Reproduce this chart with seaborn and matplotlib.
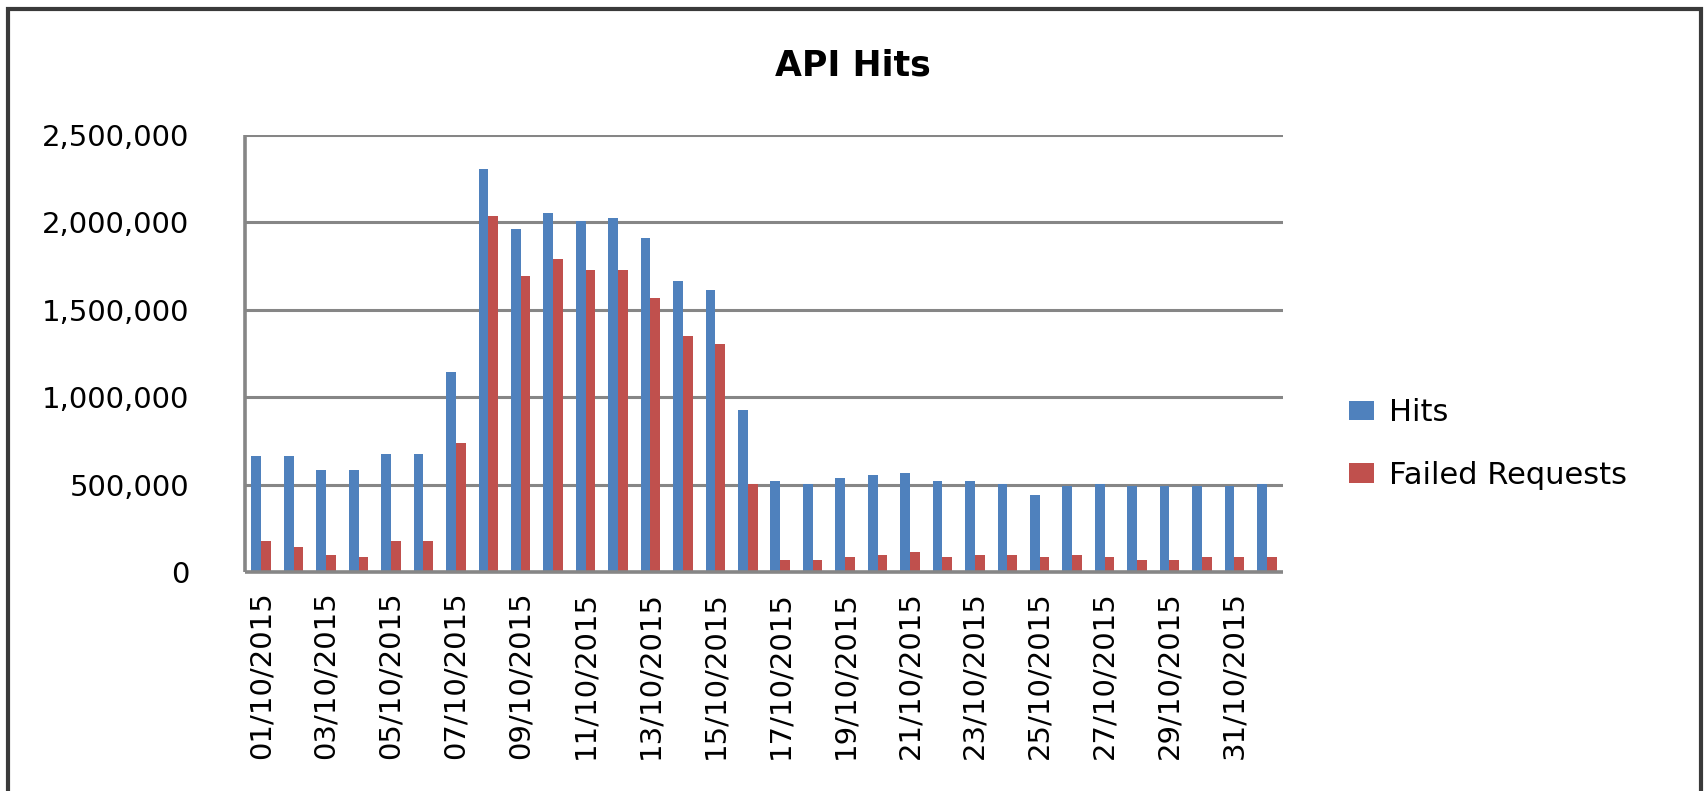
import numpy as np
import pandas as pd
import matplotlib
matplotlib.use("Agg")
import matplotlib.pyplot as plt
from matplotlib.ticker import FuncFormatter, FixedLocator
from matplotlib.patches import Rectangle, Patch
import seaborn as sns

# ---- data ----
dates = [f"{d:02d}/10/2015" for d in range(1, 32)] + ["01/11/2015"]
hits = [664000, 664000, 584000, 584000, 676000, 676000, 1145000, 2307000,
        1964000, 2055000, 2010000, 2027000, 1912000, 1666000, 1615000, 927000,
        521000, 504000, 538000, 555000, 567000, 521000, 521000, 504000,
        441000, 492000, 504000, 492000, 492000, 492000, 492000, 504000]
failed = [177000, 143000, 97000, 86000, 177000, 177000, 739000, 2038000,
          1695000, 1792000, 1729000, 1729000, 1569000, 1351000, 1305000, 504000,
          69000, 69000, 86000, 97000, 115000, 86000, 97000, 97000,
          86000, 97000, 86000, 69000, 69000, 86000, 86000, 86000]
series_names = ["Hits", "Failed Requests"]
series_colors = ["#4F81BD", "#C0504D"]
y_ticks = [0, 500000, 1000000, 1500000, 2000000, 2500000]
title = "API Hits"

df = pd.DataFrame({
    "date": dates * 2,
    "value": hits + failed,
    "series": [series_names[0]] * len(dates) + [series_names[1]] * len(dates),
})

sns.set_theme(style="white")
plt.rcParams["font.family"] = ["DejaVu Sans"]
plt.rcParams["text.color"] = "black"

W, H = 1704, 791
fig = plt.figure(figsize=(W / 100, H / 100), dpi=100)
fig.patch.set_facecolor("white")
ax = fig.add_axes([245 / W, 1 - 572 / H, (1283 - 245) / W, (572 - 135) / H])

sns.barplot(data=df, x="date", y="value", hue="series", order=dates,
            hue_order=series_names, palette=series_colors,
            saturation=1, width=0.6, dodge=True, ax=ax, legend=False,
            edgecolor="none", linewidth=0, zorder=3)

grid_c = "#868686"
ax.set_ylim(0, 2500000)
ax.set_xlim(-0.5, len(dates) - 0.5)
ax.yaxis.set_major_locator(FixedLocator(y_ticks))
ax.yaxis.set_major_formatter(FuncFormatter(lambda v, p: f"{v:,.0f}"))
ax.grid(axis="y", color=grid_c, linewidth=2.2, zorder=0)
ax.grid(axis="x", visible=False)
ax.set_axisbelow(True)
for s in ["top", "right"]:
    ax.spines[s].set_visible(False)
for s in ["left", "bottom"]:
    ax.spines[s].set_color(grid_c)
    ax.spines[s].set_linewidth(2.6)
    ax.spines[s].set_zorder(4)
    ax.spines[s].set_capstyle("butt")

pos = list(range(0, len(dates), 2))
ax.set_xticks(pos)
ax.set_xticklabels([dates[i] for i in pos], rotation=90, fontsize=21,
                   color="black")
ax.tick_params(axis="x", length=0, pad=14)
ax.tick_params(axis="y", length=0, pad=40, labelsize=21, labelcolor="black")
ax.set_xlabel("")
ax.set_ylabel("")

fig.text(853 / W, 1 - 65 / H, title, ha="center", va="center",
         fontsize=25, fontweight="bold", color="black")

handles = [Patch(facecolor=c, edgecolor="none", linewidth=0) for c in series_colors]
leg = ax.legend(handles, series_names, loc="center left",
                bbox_to_anchor=(1349 / W, 1 - 444 / H), bbox_transform=fig.transFigure,
                frameon=False, fontsize=22, handlelength=0.82, handleheight=0.62,
                handletextpad=0.5, labelspacing=1.1, borderpad=0, borderaxespad=0)
for t in leg.get_texts():
    t.set_color("black")

# outer chart frame
fig.patches.append(Rectangle((8 / W, -0.05), (1701 - 8) / W, 1.05 - 9 / H,
                             transform=fig.transFigure, fill=False,
                             edgecolor="#3a3a3a", linewidth=3, zorder=10))

fig.savefig("out.png", dpi=100, facecolor="white")
